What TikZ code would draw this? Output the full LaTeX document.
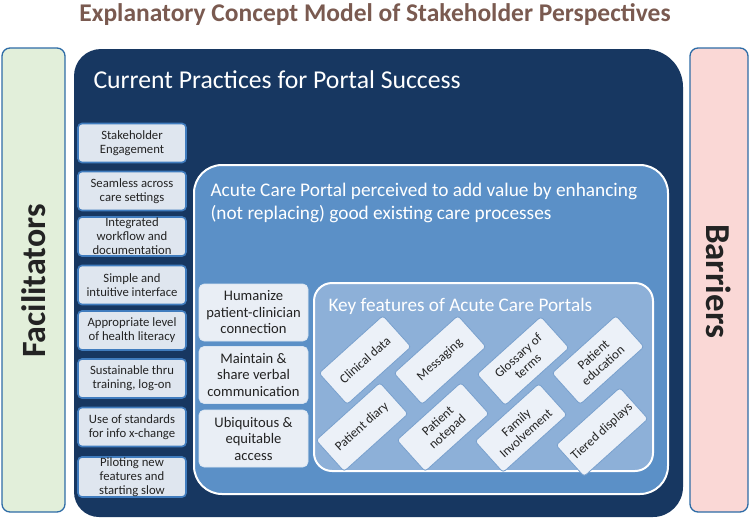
\documentclass[tikz,border=0pt]{standalone}
\usepackage{fontspec}
\setmainfont{Carlito}
\definecolor{darkblue}{RGB}{23,55,97}
\definecolor{midblue}{RGB}{91,144,199}
\definecolor{keyblue}{RGB}{141,176,216}
\definecolor{smallfill}{RGB}{223,230,239}
\definecolor{smallborder}{RGB}{64,124,190}
\definecolor{facfill}{RGB}{226,239,218}
\definecolor{barfill}{RGB}{250,216,214}
\definecolor{sideborder}{RGB}{46,108,166}
\definecolor{titlecol}{RGB}{122,90,80}
\definecolor{textdark}{RGB}{35,35,35}
\definecolor{midfill}{RGB}{233,238,245}
\definecolor{featfill}{RGB}{236,241,248}
\definecolor{featborder}{RGB}{120,160,205}
\begin{document}
\begin{tikzpicture}[x=1pt,y=-1pt,
  sidebox/.style={draw=sideborder, line width=1.3pt, rounded corners=8pt},
  lbox/.style={draw=smallborder, line width=1.6pt, fill=smallfill, rounded corners=4pt,
    minimum width=108pt, minimum height=39pt, align=center, inner sep=0.5pt,
    text=textdark, font=\fontsize{12.7}{14}\selectfont},
  mbox/.style={draw=white!80!smallborder, line width=0.6pt, fill=midfill, rounded corners=5pt,
    minimum width=109pt, minimum height=57pt, align=center, inner sep=0.5pt,
    text=textdark, font=\fontsize{14.6}{16.5}\selectfont},
  fbox/.style={draw=featborder, line width=0.8pt, fill=featfill, rounded corners=3pt,
    minimum width=86pt, minimum height=42pt, align=center, inner sep=0.5pt, rotate=42,
    text=textdark, font=\fontsize{13}{14.5}\selectfont},
  ]
\useasboundingbox (0,0) rectangle (750,520);
% title
\node[anchor=base, font=\fontsize{25.5}{30}\selectfont\bfseries, text=titlecol] (title) at (375,21) {Explanatory Concept Model of Stakeholder Perspectives};
% side boxes
\draw[sidebox, fill=facfill] (2,48) rectangle (65,512);
\node[rotate=90, font=\fontsize{34}{38}\selectfont\bfseries, text=textdark] (fac) at (34,281) {Facilitators};
\draw[sidebox, fill=barfill] (690,48) rectangle (748,512);
\node[rotate=-90, font=\fontsize{35}{38}\selectfont\bfseries, text=textdark] (bar) at (719,281) {Barriers};
% main dark box
\fill[darkblue] (74,280) [rounded corners=27pt] -- (74,49) -- (400,49) [rounded corners=38pt] -- (683,49) -- (683,280)
  [rounded corners=30pt] -- (683,517) -- (400,517) [rounded corners=25pt] -- (74,517) -- cycle;
\node[anchor=base west, text=white, font=\fontsize{25.7}{30}\selectfont] (cur) at (90,88) {Current Practices for Portal Success};
% left column
\node[lbox] (l1) at (132,143) {Stakeholder\\Engagement};
\node[lbox] (l2) at (132,191) {Seamless across\\care settings};
\node[lbox] (l3) at (132,236.5) {Integrated\\workflow and\\documentation};
\node[lbox] (l4) at (132,285) {Simple and\\intuitive interface};
\node[lbox] (l5) at (132,330.5) {Appropriate level\\of health literacy};
\node[lbox] (l6) at (132,378.5) {Sustainable thru\\training, log-on};
\node[lbox] (l7) at (132,427) {Use of standards\\for info x-change};
\node[lbox] (l8) at (132,477) {Piloting new\\features and\\starting slow};
% mid box
\draw[white, line width=2pt, fill=midblue, rounded corners=28pt] (194,165) rectangle (668,494);
\node[anchor=north west, align=left, text=white, font=\fontsize{19.3}{22.5}\selectfont] (acute) at (207,180)
  {Acute Care Portal perceived to add value by enhancing\\(not replacing) good existing care processes};
% middle column
\node[mbox] (m1) at (253.5,312.5) {Humanize\\patient-clinician\\connection};
\node[mbox] (m2) at (253.5,375) {Maintain \&\\share verbal\\communication};
\node[mbox] (m3) at (253.5,438.5) {Ubiquitous \&\\equitable\\access};
% key features box
\draw[white, line width=2pt, fill=keyblue, rounded corners=18pt] (314,283) rectangle (653,471);
\node[anchor=base west, text=white, font=\fontsize{19.2}{22}\selectfont] (key) at (325,311) {Key features of Acute Care Portals};
% features
\node[fbox] (f1) at (365,360) {Clinical data};
\node[fbox] (f2) at (440,360) {Messaging};
\node[fbox] (f3) at (523,361) {Glossary of\\terms};
\node[fbox] (f4) at (598,360) {Patient\\education};
\node[fbox] (f5) at (362,427) {Patient diary};
\node[fbox] (f6) at (443,427) {Patient\\notepad};
\node[fbox] (f7) at (521,428) {Family\\Involvement};
\node[fbox] (f8) at (602,432) {Tiered displays};
\end{tikzpicture}
\end{document}
